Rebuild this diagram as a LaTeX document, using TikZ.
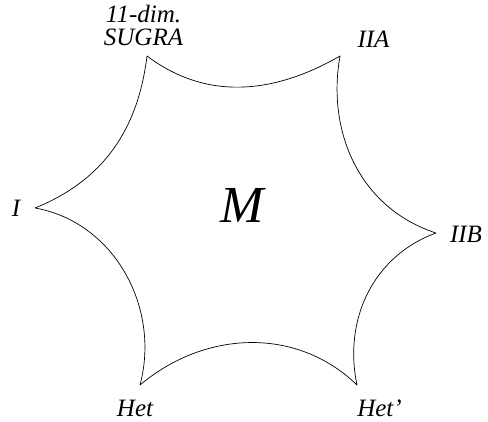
\documentclass[tikz,border=0pt]{standalone}
\usepackage{fontspec}
\setmainfont{Liberation Serif}
\begin{document}
\begin{tikzpicture}[x=1pt,y=1pt,
  lbl/.style={font=\fontsize{25}{23}\selectfont\itshape, inner sep=0pt, align=center},
  bigm/.style={font=\fontsize{52}{54}\selectfont\itshape, inner sep=0pt},
  edge/.style={draw=black, line width=0.7pt, line join=round}]
\useasboundingbox (0,0) rectangle (488,422);
\coordinate (S) at (147,366);
\coordinate (A) at (340,366);
\coordinate (B) at (436,189);
\coordinate (Hp) at (357,37);
\coordinate (H) at (140,37);
\coordinate (I) at (35,214);
\draw[edge] (S) to[out=-37,in=210] (A) to[out=-100,in=162] (B)
  to[out=200,in=102] (Hp) to[out=136,in=40] (H)
  to[out=75,in=-10] (I) to[out=22,in=-97] (S);
\node[lbl] (lS) at (143.5,397) {11-dim.\\SUGRA};
\node[lbl] (lA) at (373.5,383) {IIA};
\node[lbl] (lI) at (16,213.5) {I};
\node[lbl] (lB) at (466,187.5) {IIB};
\node[lbl] (lH) at (135,13.5) {Het};
\node[lbl] (lHp) at (379.5,13.5) {Het'};
\node[bigm] (M) at (242.5,217) {M};
\end{tikzpicture}
\end{document}
